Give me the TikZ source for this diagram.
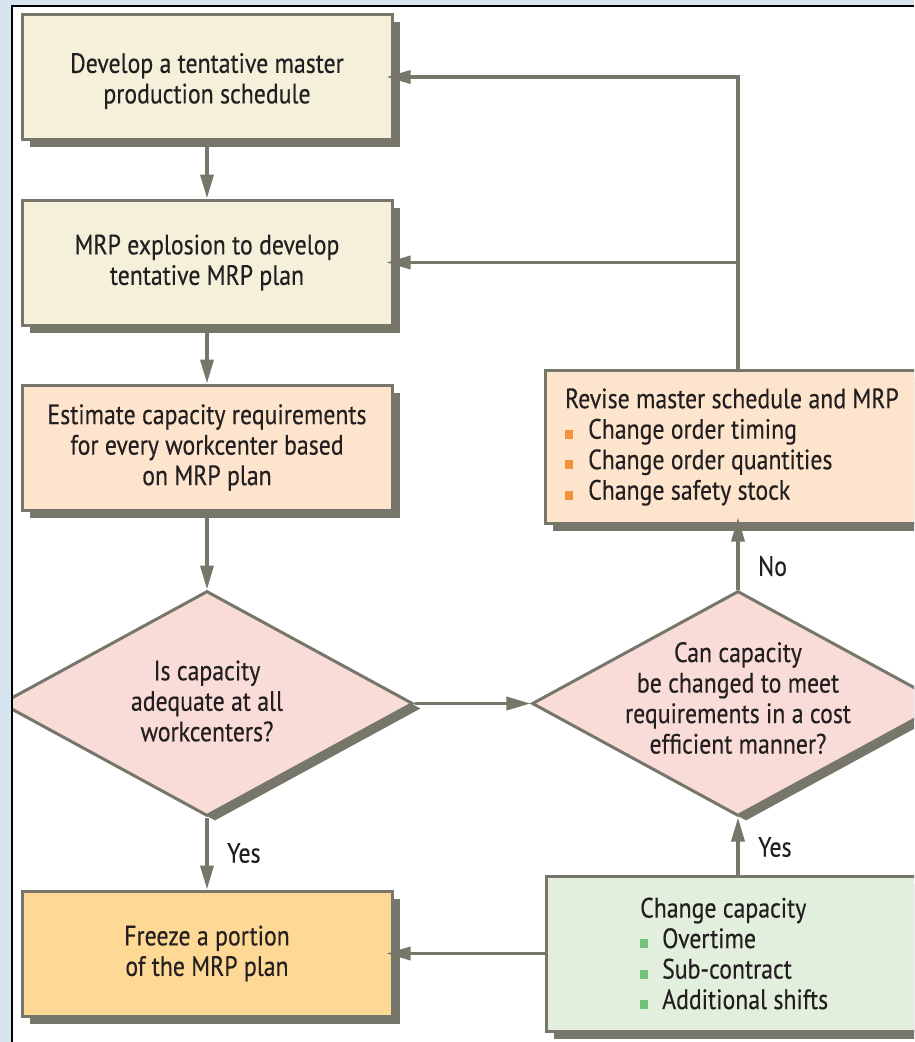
\documentclass[tikz,border=0pt]{standalone}
\usepackage{fontspec}
\setmainfont{PT Sans}[FakeStretch=0.85, FakeBold=0.3]
\usetikzlibrary{arrows.meta,shapes.geometric,shadows}

\definecolor{bgblue}{HTML}{D5E6F0}
\definecolor{edgegray}{HTML}{76766A}
\definecolor{filltan}{HTML}{F4F0DA}
\definecolor{fillpeach}{HTML}{FDE4CC}
\definecolor{fillpink}{HTML}{F9DCD8}
\definecolor{fillamber}{HTML}{FDD995}
\definecolor{fillmint}{HTML}{E2EFDC}
\definecolor{ink}{HTML}{231F20}
\definecolor{bulorange}{HTML}{F4913A}
\definecolor{bulgreen}{HTML}{74C27A}

\newcommand{\boxfont}{\fontsize{28}{30.5}\selectfont}
\newcommand{\obullet}{\textcolor{bulorange}{\rule{8pt}{9pt}}\hspace{15pt}}
\newcommand{\gbullet}{\textcolor{bulgreen}{\rule{8pt}{9pt}}\hspace{14pt}}

\tikzset{
  stepbox/.style={draw=edgegray, line width=3pt, minimum width=370pt,
    minimum height=125pt, inner sep=0pt, align=center, text=ink, font=\boxfont,
    drop shadow={shadow xshift=7.5pt, shadow yshift=-7.5pt, opacity=1, fill=edgegray}},
  decision/.style={diamond, draw=edgegray, line width=3pt, fill=fillpink,
    minimum width=412pt, minimum height=225pt, inner sep=0pt,
    drop shadow={shadow xshift=8pt, shadow yshift=-5pt, opacity=1, fill=edgegray}},
  plaintext/.style={text=ink, font=\boxfont, inner sep=0pt},
  flow/.style={draw=edgegray, line width=3.5pt, -{Triangle[length=24pt,width=13pt]}},
}

\begin{document}
\begin{tikzpicture}[x=1pt, y=-1pt]
  \useasboundingbox (0,0) rectangle (914,1042);
  % page background and white panel
  \fill[bgblue] (0,0) rectangle (914,1042);
  \fill[white] (12,6) rectangle (914,1042);

  \begin{scope}
    \clip (12,6) rectangle (914,1042);

    % left column
    \node[stepbox, fill=filltan] (b1) at (207,77) {};
    \node[plaintext, align=center] (b1t) at (207,81)
      {Develop a tentative master\\production schedule};
    \node[stepbox, fill=filltan] (b2) at (207,262.5)
      {MRP explosion to develop\\tentative MRP plan};
    \node[stepbox, fill=fillpeach] (b3) at (207,447.5)
      {Estimate capacity requirements\\for every workcenter based\\on MRP plan};
    \node[decision] (d1) at (207,703.5) {};
    \node[plaintext, align=center] (d1t) at (207,701)
      {Is capacity\\adequate at all\\workcenters?};
    \node[stepbox, fill=fillamber] (b4) at (207,953.5)
      {Freeze a portion\\of the MRP plan};

    % right column
    \node[stepbox, fill=fillpeach, minimum width=415pt, minimum height=153pt] (b5) at (752.5,446.5) {};
    \node[plaintext, align=left, anchor=west] (b5t) at (565,447)
      {Revise master schedule and MRP\\
       \obullet Change order timing\\
       \obullet Change order quantities\\
       \obullet Change safety stock};
    \node[decision] (d2) at (738,703.5) {};
    \node[plaintext, align=center] (d2t) at (738,698)
      {Can capacity\\be changed to meet\\requirements in a cost\\efficient manner?};
    \node[stepbox, fill=fillmint, minimum width=414pt, minimum height=155pt] (b6) at (753,953.5) {};
    \node[plaintext, align=left, anchor=west] (b6t) at (640,953.5)
      {Change capacity\\
       \gbullet Overtime\\
       \gbullet Sub-contract\\
       \gbullet Additional shifts};

    % main flow
    \draw[flow] (b1) -- (b2);
    \draw[flow] (b2) -- (b3);
    \draw[flow] (b3) -- (d1);
    \draw[flow] (d1) -- (d2);
    \draw[flow] (d1) -- (b4);
    \draw[flow, shorten >=-7pt] (d2) -- (d2.north |- b5.south);
    \draw[flow] (d2.south |- b6.north) -- (d2);
    \draw[flow, shorten >=-7pt] (b6) -- (b4);

    % feedback loop to the top of the column
    \coordinate (loopbase) at (d2.north |- b5.north);
    \draw[flow, shorten >=-7pt] (loopbase) -- (loopbase |- b1.east) -- (b1.east);
    \draw[flow, shorten >=-7pt] (loopbase |- b2.east) -- (b2.east);

    % branch labels
    \node[plaintext, anchor=west] (yes1) at (227,853) {Yes};
    \node[plaintext, anchor=west] (yes2) at (758,847) {Yes};
    \node[plaintext, anchor=west] (no2) at (758,566) {No};
  \end{scope}

  % panel frame
  \draw[black, line width=2.2pt] (12,1042) -- (12,6) -- (914,6);
\end{tikzpicture}
\end{document}
